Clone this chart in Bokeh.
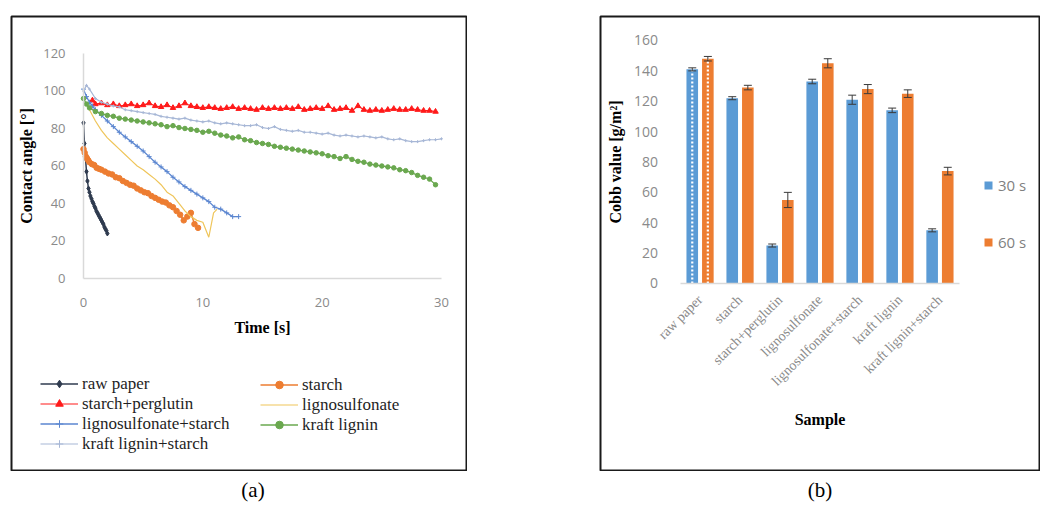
from bokeh.plotting import figure
from bokeh.models import (Range1d, FixedTicker, Legend, LegendItem, ColumnDataSource,
                          FactorRange, Whisker, TeeHead, Div, Spacer)
from bokeh.layouts import row, column
from bokeh.transform import dodge
from bokeh.embed import file_html
from bokeh.resources import INLINE

# ---------------- (a) contact angle vs time ----------------
TIME_TICKS = [0, 10, 20, 30]
ANGLE_TICKS = [0, 20, 40, 60, 80, 100, 120]

raw_paper_t = [0, 0.08, 0.17, 0.25, 0.33, 0.42, 0.5, 0.58, 0.67, 0.75, 0.83, 0.92, 1.0,
               1.08, 1.17, 1.25, 1.33, 1.42, 1.5, 1.58, 1.67, 1.75, 1.83, 1.92, 2.0]
raw_paper_v = [83, 72, 64, 57, 52, 48, 46, 44, 42.5, 41, 40, 38.5, 37.5,
               36, 35, 34, 33, 32, 31, 30, 29, 27.5, 26.5, 25.5, 24]

starch_t = [0, 0.1, 0.2, 0.3, 0.4, 0.5, 0.7, 0.9, 1.1, 1.3, 1.5, 1.8, 2.1, 2.4, 2.7, 3.0,
            3.3, 3.6, 3.9, 4.2, 4.5, 4.8, 5.1, 5.4, 5.7, 6.0, 6.3, 6.6, 6.9, 7.2, 7.5,
            7.8, 8.1, 8.4, 8.7, 9.0, 9.3, 9.6]
starch_v = [69, 67, 65, 64, 63, 62, 61, 60.5, 59, 58.5, 58, 57, 56, 55.5, 54, 53.5,
            52, 51, 50, 49.5, 48, 47, 46, 45.5, 44, 43, 42, 41, 40.5, 39, 38,
            36, 34, 31, 33, 35, 29, 27]

perglutin_t = [0.75, 1.0, 1.5, 2.0, 2.5, 3.0, 3.5, 4.0, 4.5, 5.0, 5.5, 6.0, 6.5, 7.0, 7.5,
               8.0, 8.5, 9.0, 9.5, 10.0, 10.5, 11.0, 11.5, 12.0, 12.5, 13.0, 13.5, 14.0,
               14.5, 15.0, 15.5, 16.0, 16.5, 17.0, 17.5, 18.0, 18.5, 19.0, 19.5, 20.0,
               20.5, 21.0, 21.5, 22.0, 22.5, 23.0, 23.5, 24.0, 24.5, 25.0, 25.5, 26.0,
               26.5, 27.0, 27.5, 28.0, 28.5, 29.0, 29.5]
perglutin_v = [95, 93, 93.5, 92.5, 93, 92, 92.5, 93, 92, 92.5, 93.5, 92, 91.5, 92.5, 91,
               92, 93.5, 92, 91.5, 91, 91.5, 91, 90.5, 91, 91.5, 90.5, 91, 90.5,
               90, 91, 90.5, 91, 90.5, 91, 90.5, 91.5, 90, 90.5, 91, 90.5,
               92, 90, 90.5, 91, 89.5, 92, 90, 89.5, 90, 89.5, 90, 90.5,
               90, 90, 90.5, 90, 89.5, 89.5, 89]

lignosulf_t = [0.2, 0.5, 1.0, 1.5, 2.0, 2.5, 3.0, 3.5, 4.0, 4.5, 5.0, 5.5, 6.0, 6.5, 7.0,
               7.5, 8.0, 8.5, 9.0, 9.5, 10.0, 10.5, 10.9, 11.2]
lignosulf_v = [94, 90, 84, 79, 75, 72, 69, 66, 63, 60, 58, 55.5, 53, 50, 46,
               44, 40, 36, 33, 31, 30, 22, 35, 37]

lignosulf_starch_t = [0, 0.25, 0.5, 0.75, 1.0, 1.5, 2.0, 2.5, 3.0, 3.5, 4.0, 4.5, 5.0, 5.5,
                      6.0, 6.5, 7.0, 7.5, 8.0, 8.5, 9.0, 9.5, 10.0, 10.5, 11.0, 11.5,
                      12.0, 12.5, 13.0]
lignosulf_starch_v = [101, 97, 94, 92, 90, 87, 84, 81, 78, 75.5, 73, 70.5, 68, 65,
                      62, 59.5, 57, 54, 51.5, 49, 47, 45, 43, 41, 38, 37,
                      35, 33, 33]

kraft_t = [0, 0.25, 0.5, 1.0, 1.5, 2.0, 2.5, 3.0, 3.5, 4.0, 4.5, 5.0, 5.5, 6.0, 6.5, 7.0,
           7.5, 8.0, 8.5, 9.0, 9.5, 10.0, 10.5, 11.0, 11.5, 12.0, 12.5, 13.0, 13.5, 14.0,
           14.5, 15.0, 15.5, 16.0, 16.5, 17.0, 17.5, 18.0, 18.5, 19.0, 19.5, 20.0, 20.5,
           21.0, 21.5, 22.0, 22.5, 23.0, 23.5, 24.0, 24.5, 25.0, 25.5, 26.0, 26.5, 27.0,
           27.5, 28.0, 28.5, 29.0, 29.5]
kraft_v = [96, 93, 91, 89, 88, 87, 86.5, 85.5, 85, 84.5, 84, 83.5, 83, 82.5, 82, 81,
           81.5, 80.5, 80, 79.5, 79, 78, 78.5, 77.5, 76.5, 76, 75, 75.5, 74, 73.5,
           72.5, 72, 71.5, 70.5, 70, 69.5, 69, 68.5, 68, 67.5, 67, 66.5, 65.5,
           65, 64, 65, 63.5, 62.5, 62, 61, 60.5, 60, 59.5, 59, 58, 57.5,
           56.5, 55, 54, 53, 50]

kraft_starch_t = [0, 0.25, 0.5, 1.0, 1.5, 2.0, 2.5, 3.0, 3.5, 4.0, 4.5, 5.0, 5.5, 6.0, 6.5,
                  7.0, 7.5, 8.0, 8.5, 9.0, 9.5, 10.0, 10.5, 11.0, 11.5, 12.0, 12.5, 13.0,
                  13.5, 14.0, 14.5, 15.0, 15.5, 16.0, 16.5, 17.0, 17.5, 18.0, 18.5, 19.0,
                  19.5, 20.0, 20.5, 21.0, 21.5, 22.0, 22.5, 23.0, 23.5, 24.0, 24.5, 25.0,
                  25.5, 26.0, 26.5, 27.0, 27.5, 28.0, 28.5, 29.0, 29.5, 30.0]
kraft_starch_v = [100, 103, 101, 96, 94, 93, 92, 91.5, 90, 89.5, 89, 88.5, 88, 87.5, 86.5,
                  86, 85.5, 85, 85.5, 84.5, 84, 83.5, 84, 83, 82.5, 83, 82.5, 82,
                  81.5, 81.5, 82, 80.5, 80, 81, 79.5, 79, 78.5, 79, 78, 78,
                  77.5, 77, 77.5, 76.5, 76, 76.5, 76, 75.5, 76, 75.5, 75, 75.5,
                  74.5, 74, 74.5, 73.5, 73, 73, 73.5, 74, 74, 74.5]

SERIF = "Liberation Serif"
SANS = "Open Sans"
TICK_GRAY = "#8a8a8a"
AXIS_GRAY = "#d9d9d9"
BOX_COLOR = "#1a1a1a"

# The plot frame is the whole boxed panel; the axes sit inside it at fixed locations.
p1 = figure(width=457, height=456, x_range=Range1d(-6.034, 32.096),
            y_range=Range1d(-102.4, 139.73),
            output_backend="svg", toolbar_location=None,
            min_border_left=1, min_border_right=1, min_border_top=1, min_border_bottom=1)
p1.grid.visible = False
p1.outline_line_color = BOX_COLOR
p1.outline_line_width = 2
p1.background_fill_color = "white"
p1.border_fill_color = "white"

for ax in (p1.xaxis[0], p1.yaxis[0]):
    ax.axis_line_color = AXIS_GRAY
    ax.axis_line_width = 1.5
    ax.major_tick_line_color = None
    ax.minor_tick_line_color = None
    ax.major_label_text_font = SANS
    ax.major_label_text_font_size = "13px"
    ax.major_label_text_color = TICK_GRAY
    ax.axis_label_text_font = SERIF
    ax.axis_label_text_font_style = "bold"
    ax.axis_label_text_font_size = "16px"
    ax.axis_label_text_color = "black"

p1.xaxis.fixed_location = 0
p1.yaxis.fixed_location = 0
p1.xaxis.bounds = (TIME_TICKS[0], TIME_TICKS[-1])
p1.yaxis.bounds = (ANGLE_TICKS[0], ANGLE_TICKS[-1])
p1.xaxis.ticker = FixedTicker(ticks=TIME_TICKS)
p1.yaxis.ticker = FixedTicker(ticks=ANGLE_TICKS)
p1.xaxis.axis_label = "Time [s]"
p1.yaxis.axis_label = "Contact angle [°]"
p1.xaxis.major_label_standoff = 14
p1.xaxis.axis_label_standoff = 8
p1.yaxis.major_label_standoff = 12
p1.yaxis.axis_label_standoff = 5

series = [
    ("raw paper", raw_paper_t, raw_paper_v, "#2f3b4f", 1.5, "diamond", 5),
    ("starch", starch_t, starch_v, "#ed7d31", 1.5, "circle", 5.5),
    ("starch+perglutin", perglutin_t, perglutin_v, "#ff1a1a", 1.2, "triangle", 5.5),
    ("lignosulfonate", lignosulf_t, lignosulf_v, "#efc55a", 1.2, None, 0),
    ("lignosulfonate+starch", lignosulf_starch_t, lignosulf_starch_v, "#5b86d0", 1.3, "cross", 5),
    ("kraft lignin", kraft_t, kraft_v, "#6aa84f", 1.3, "circle", 4.5),
    ("kraft lignin+starch", kraft_starch_t, kraft_starch_v, "#a7b7d6", 1.2, "cross", 3),
]

items = {}
for name, t, v, col, lw, mk, ms in series:
    rs = [p1.line(t, v, line_color=col, line_width=lw)]
    if mk:
        rs.append(p1.scatter(t, v, marker=mk, size=ms, line_color=col, fill_color=col))
    items[name] = LegendItem(label=name, renderers=rs)

left_col = ["raw paper", "starch+perglutin", "lignosulfonate+starch", "kraft lignin+starch"]
right_col = ["starch", "lignosulfonate", "kraft lignin"]
for names, loc in ((left_col, (29, 16.5)), (right_col, (249, 35.5))):
    lg = Legend(items=[items[n] for n in names], location=loc,
                glyph_width=38, glyph_height=19, label_height=19, spacing=0,
                padding=0, margin=0, label_standoff=4,
                background_fill_alpha=0, border_line_color=None)
    lg.label_text_font = SERIF
    lg.label_text_font_size = "17px"
    lg.label_text_color = "#1e1e1e"
    p1.add_layout(lg, "center")

# ---------------- (b) Cobb value per sample ----------------
samples = ["raw paper", "starch", "starch+perglutin", "lignosulfonate",
           "lignosulfonate+starch", "kraft lignin", "kraft lignin+starch"]
cobb_30 = [141, 122, 25, 133, 121, 114, 35]
cobb_60 = [148, 129, 55, 145, 128, 125, 74]
err_30 = [1, 1, 1, 1.5, 3, 1.5, 1]
err_60 = [1.5, 1.5, 5, 3, 3, 2.5, 2.5]
COBB_TICKS = [0, 20, 40, 60, 80, 100, 120, 140, 160]

src = ColumnDataSource(dict(
    sample=samples, c30=cobb_30, c60=cobb_60,
    u30=[v + e for v, e in zip(cobb_30, err_30)], l30=[v - e for v, e in zip(cobb_30, err_30)],
    u60=[v + e for v, e in zip(cobb_60, err_60)], l60=[v - e for v, e in zip(cobb_60, err_60)],
))

xr2 = FactorRange(*samples, range_padding=1.99, range_padding_units="absolute")
p2 = figure(width=441, height=456, x_range=xr2, y_range=Range1d(-123.13, 175.8),
            output_backend="svg", toolbar_location=None,
            min_border_left=1, min_border_right=1, min_border_top=1, min_border_bottom=1)
p2.grid.visible = False
p2.outline_line_color = BOX_COLOR
p2.outline_line_width = 2

BLUE = "#5b9bd5"
ORANGE = "#ed7d31"
r30 = p2.vbar(x=dodge("sample", -0.195, range=p2.x_range), top="c30", width=0.29,
              source=src, fill_color=BLUE, line_color=None)
r60 = p2.vbar(x=dodge("sample", 0.195, range=p2.x_range), top="c60", width=0.29,
              source=src, fill_color=ORANGE, line_color=None)

# dotted white centre line on the untreated paper bars
raw_src = ColumnDataSource(dict(sample=samples[:1], zero=[0], c30=cobb_30[:1], c60=cobb_60[:1]))
for off, key in ((-0.195, "c30"), (0.195, "c60")):
    xs = dodge("sample", off, range=p2.x_range)
    p2.segment(x0=xs, y0="zero", x1=xs, y1=key, source=raw_src,
               line_color="white", line_width=2.2, line_dash="2 2")

for off, up, lo in ((-0.195, "u30", "l30"), (0.195, "u60", "l60")):
    w = Whisker(base=dodge("sample", off, range=p2.x_range), upper=up, lower=lo, source=src,
                line_color="#3a3a3a", line_width=1, level="annotation",
                upper_head=TeeHead(size=8, line_color="#3a3a3a", line_width=1),
                lower_head=TeeHead(size=8, line_color="#3a3a3a", line_width=1))
    p2.add_layout(w)

xa, ya = p2.xaxis[0], p2.yaxis[0]
for ax in (xa, ya):
    ax.major_tick_line_color = None
    ax.minor_tick_line_color = None
    ax.axis_label_text_font = SERIF
    ax.axis_label_text_font_style = "bold"
    ax.axis_label_text_font_size = "16px"
    ax.axis_label_text_color = "black"
xa.fixed_location = 0
xa.bounds = (0, len(samples))
xa.axis_line_color = AXIS_GRAY
xa.axis_line_width = 1.5
ya.fixed_location = 0
ya.bounds = (COBB_TICKS[0], COBB_TICKS[-1])
ya.axis_line_color = None
ya.ticker = FixedTicker(ticks=COBB_TICKS)
ya.major_label_text_font = SANS
ya.major_label_text_font_size = "14px"
ya.major_label_text_color = TICK_GRAY
ya.major_label_standoff = 16
ya.axis_label = "Cobb value [g/m²]"
ya.axis_label_standoff = 7
xa.major_label_orientation = 0.785398
xa.major_label_text_font = SERIF
xa.major_label_text_font_size = "14px"
xa.major_label_text_color = TICK_GRAY
xa.major_label_standoff = 8
xa.axis_label = "Sample"
xa.axis_label_standoff = 14

lg2 = Legend(items=[LegendItem(label="30 s", renderers=[r30]),
                    LegendItem(label="60 s", renderers=[r60])],
             location=(383, 218), glyph_width=10, glyph_height=10, label_height=20,
             spacing=37, padding=0, margin=0, label_standoff=5,
             label_text_font=SANS, label_text_font_size="15px", label_text_color="#7f7f7f",
             background_fill_alpha=0, border_line_color=None)
p2.add_layout(lg2, "center")

# ---------------- page ----------------
cap_style = {"font-family": SERIF, "font-size": "21px", "text-align": "center",
             "line-height": "38px", "color": "black", "width": "100%"}
cap_a = Div(text="(a)", width=506, height=53, margin=(0, 0, 0, 0), styles=cap_style)
cap_b = Div(text="(b)", width=100, height=53, margin=(0, 0, 0, 0), styles=cap_style)

panels = row(Spacer(width=10, height=456), p1, Spacer(width=132, height=456), p2)
captions = row(cap_a, Spacer(width=264, height=53), cap_b)
page = column(Spacer(width=1040, height=15), panels, captions)

open("out.html", "w").write(file_html(page, INLINE))
